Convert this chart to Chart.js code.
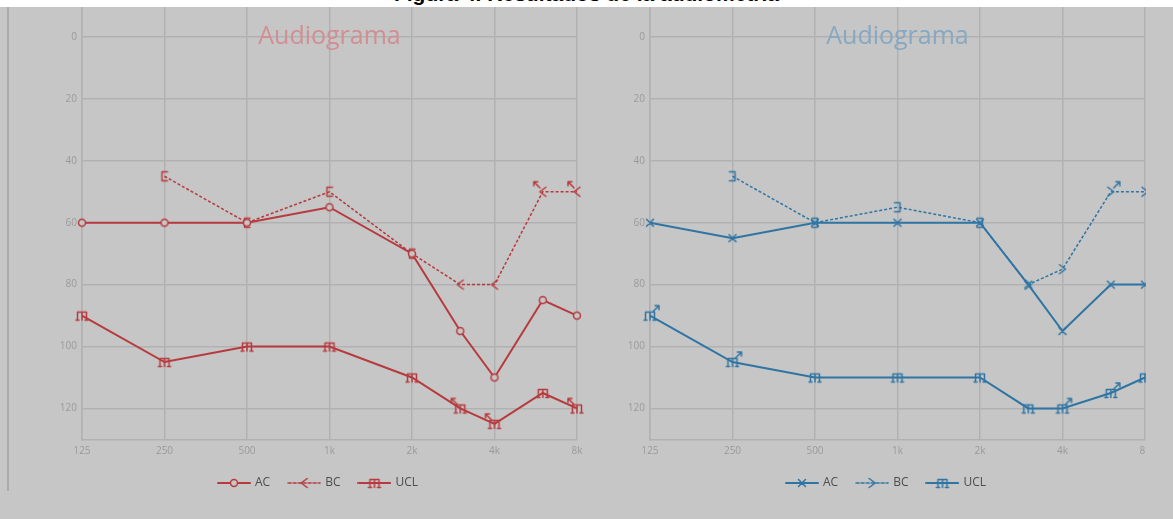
<!DOCTYPE html>
<html>
<head>
<meta charset="utf-8">
<script src="https://cdn.jsdelivr.net/npm/chart.js@4.4.1/dist/chart.umd.min.js"></script>
<style>
  body { margin: 0; background: #fff; width: 1173px; height: 519px; overflow: hidden; position: relative; }
  #cap { position: absolute; left: 0; top: 0; width: 1173px; height: 7px; background: #fff; overflow: hidden; z-index: 3; }
  #cap span { position: absolute; left: 0; width: 1173px; text-align: center; top: -18px; font: bold 21px "Liberation Sans", Arial, sans-serif; color: #000; white-space: nowrap; }
  #panel { position: absolute; left: 0; top: 0; width: 1173px; height: 519px; background: #c6c6c6; overflow: hidden; }
  #edge { position: absolute; left: 7px; top: 7px; width: 2px; height: 484px; background: #aaaaaa; z-index: 2; }
  #left { position: absolute; left: 0; top: -5px; }
  #rwrap { position: absolute; left: 568px; top: -5px; width: 578px; height: 524px; overflow: hidden; }
  #right { position: absolute; left: 0; top: 0; }
</style>
</head>
<body>
<div id="cap"><span>Figura 4. Resultados de la audiometría</span></div>
<div id="panel">
  <div id="edge"></div>
  <canvas id="left" width="590" height="524"></canvas>
  <div id="rwrap"><canvas id="right" width="590" height="524"></canvas></div>
</div>
<script>
// frequencies (Hz) and hearing levels (dB)
const freqs = [125, 250, 500, 1000, 2000, 3000, 4000, 6000, 8000];
const freqTicks = [125, 250, 500, 1000, 2000, 4000, 8000];
const dbTicks = [0, 20, 40, 60, 80, 100, 120];
const seriesNames = ["AC", "BC", "UCL"];
const chartTitle = "Audiograma";

// left chart (red)
const leftAC = [60, 60, 60, 55, 70, 95, 110, 85, 90];
const leftBC = [null, 45, 60, 50, 70, 80, 80, 50, 50];
const leftUCL = [90, 105, 100, 100, 110, 120, 125, 115, 120];

// right chart (blue)
const rightAC = [60, 65, 60, 60, 60, 80, 95, 80, 80];
const rightBC = [null, 45, 60, 55, 60, 80, 75, 50, 50];
const rightUCL = [90, 105, 110, 110, 110, 120, 120, 115, 110];

// marker symbols for each point
const leftMarks = {
  AC: ["o", "o", "o", "o", "o", "o", "o", "o", "o"],
  BC: ["", "[", "[", "[", "[", "<", "<", "<^l", "<^l"],
  UCL: ["m", "m", "m", "m", "m", "m^l", "m^l", "m", "m^l"]
};
const rightMarks = {
  AC: ["x", "x", "x", "x", "x", "x", "x", "x", "x"],
  BC: ["", "]", "]", "]", "]", ">", ">", ">^r", ">^r"],
  UCL: ["m^r", "m^r", "m", "m", "m", "m", "m^r", "m^r", "m"]
};

const bg = "#c6c6c6";
const gridColor = "#b1b1b1";

function symbol(code, color, legend, dashed) {
  const w = legend ? 34 : 26, h = legend ? 14 : 26;
  const c = document.createElement("canvas");
  c.width = w; c.height = h;
  const g = c.getContext("2d");
  const cx = w / 2, cy = h / 2;
  g.strokeStyle = color;
  g.lineCap = "round";
  g.lineJoin = "round";
  if (legend) {
    g.lineWidth = dashed ? 1.5 : 2;
    g.setLineDash(dashed ? [3, 2] : []);
    g.beginPath(); g.moveTo(1, cy); g.lineTo(w - 1, cy); g.stroke();
    g.setLineDash([]);
  }
  const kind = code.charAt(0);
  const arrow = code.indexOf("^") >= 0 ? code.charAt(code.length - 1) : "";
  g.lineWidth = 1.5;
  g.beginPath();
  if (kind === "o") {
    g.fillStyle = bg;
    g.arc(cx, cy, 3.5, 0, Math.PI * 2);
    g.fill();
  } else if (kind === "x") {
    g.moveTo(cx - 3.5, cy - 3.5); g.lineTo(cx + 3.5, cy + 3.5);
    g.moveTo(cx - 3.5, cy + 3.5); g.lineTo(cx + 3.5, cy - 3.5);
  } else if (kind === "<") {
    g.moveTo(cx + 3, cy - 4.5); g.lineTo(cx - 3, cy); g.lineTo(cx + 3, cy + 4.5);
  } else if (kind === ">") {
    g.moveTo(cx - 3, cy - 4.5); g.lineTo(cx + 3, cy); g.lineTo(cx - 3, cy + 4.5);
  } else if (kind === "[") {
    g.moveTo(cx + 3, cy - 4.5); g.lineTo(cx - 2.5, cy - 4.5); g.lineTo(cx - 2.5, cy + 4.5); g.lineTo(cx + 3, cy + 4.5);
  } else if (kind === "]") {
    g.moveTo(cx - 3, cy - 4.5); g.lineTo(cx + 2.5, cy - 4.5); g.lineTo(cx + 2.5, cy + 4.5); g.lineTo(cx - 3, cy + 4.5);
  } else if (kind === "m") {
    g.moveTo(cx - 4.5, cy + 4.5); g.lineTo(cx - 4.5, cy - 3.5); g.lineTo(cx + 4.5, cy - 3.5); g.lineTo(cx + 4.5, cy + 4.5);
    g.moveTo(cx, cy - 3.5); g.lineTo(cx, cy + 4.5);
    g.moveTo(cx - 6, cy + 4.5); g.lineTo(cx - 3, cy + 4.5);
    g.moveTo(cx + 3, cy + 4.5); g.lineTo(cx + 6, cy + 4.5);
  }
  g.stroke();
  if (arrow) {
    const s = arrow === "l" ? -1 : 1;
    g.beginPath();
    g.moveTo(cx + s * 3, cy - 4); g.lineTo(cx + s * 9, cy - 10);
    g.moveTo(cx + s * 9, cy - 10); g.lineTo(cx + s * 9, cy - 6);
    g.moveTo(cx + s * 9, cy - 10); g.lineTo(cx + s * 5, cy - 10);
    g.stroke();
  }
  return c;
}

const titlePlugin = {
  id: "audTitle",
  beforeDatasetsDraw(chart, args, opts) {
    const { ctx, chartArea } = chart;
    ctx.save();
    ctx.font = '25px "Open Sans"';
    ctx.fillStyle = opts.color;
    ctx.textAlign = "center";
    ctx.textBaseline = "alphabetic";
    ctx.fillText(opts.text, (chartArea.left + chartArea.right) / 2, chart.scales.y.getPixelForValue(0) + 7);
    ctx.restore();
  }
};

function makeChart(id, values, marks, color, titleColor, legendMarks) {
  const datasets = seriesNames.map((name, i) => {
    const dashed = name === "BC";
    return {
      label: name,
      data: freqs.map((f, k) => ({ x: f, y: values[i][k] })),
      borderColor: color,
      borderWidth: dashed ? 1.5 : 2,
      borderDash: dashed ? [3, 2] : [],
      pointStyle: marks[name].map(m => m ? symbol(m, color, false) : "circle"),
      pointRadius: 5,
      pointHoverRadius: 5,
      fill: false,
      tension: 0,
      clip: false,
      legendIcon: symbol(legendMarks[i], color, true, dashed)
    };
  });

  return new Chart(document.getElementById(id), {
    type: "line",
    data: { datasets: datasets },
    plugins: [titlePlugin],
    options: {
      responsive: false,
      animation: false,
      devicePixelRatio: 1,
      layout: { padding: { left: 60, right: 13, top: 0, bottom: 20 } },
      scales: {
        x: {
          type: "logarithmic",
          min: 125,
          max: 8000,
          afterBuildTicks: s => { s.ticks = freqTicks.map(v => ({ value: v })); },
          afterFit: s => { s.height = 18.6; },
          grid: { color: gridColor, lineWidth: 1.5, drawTicks: false },
          border: { color: gridColor, width: 1.5 },
          ticks: {
            autoSkip: false, maxRotation: 0, padding: 6,
            color: "#9a9a9a", font: { family: "Open Sans", size: 10 },
            callback: v => v >= 1000 ? (v / 1000) + "k" : String(v)
          }
        },
        y: {
          reverse: true,
          min: -10,
          max: 130,
          afterBuildTicks: s => { s.ticks = dbTicks.map(v => ({ value: v })); },
          afterFit: s => { s.width = 22; },
          grid: { color: gridColor, lineWidth: 1.5, drawTicks: false },
          border: { color: gridColor, width: 1.5 },
          ticks: { padding: 5, color: "#9a9a9a", font: { family: "Open Sans", size: 10 } }
        }
      },
      plugins: {
        audTitle: { text: chartTitle, color: titleColor },
        tooltip: { enabled: false },
        legend: {
          position: "bottom",
          labels: {
            usePointStyle: true,
            pointStyleWidth: 30,
            padding: 19,
            color: "#4d4d4d",
            font: { family: "Open Sans", size: 12 },
            generateLabels: chart => chart.data.datasets.map((ds, i) => ({
              text: ds.label,
              pointStyle: ds.legendIcon,
              fontColor: "#4d4d4d",
              fillStyle: "transparent",
              strokeStyle: "transparent",
              lineWidth: 0,
              hidden: false,
              datasetIndex: i
            }))
          }
        }
      }
    }
  });
}

makeChart("left", [leftAC, leftBC, leftUCL], leftMarks, "#b73a3e", "#cf8f93", ["o", "<", "m"]);
makeChart("right", [rightAC, rightBC, rightUCL], rightMarks, "#2f75a3", "#86a8c2", ["x", ">", "m"]);
</script>
</body>
</html>
